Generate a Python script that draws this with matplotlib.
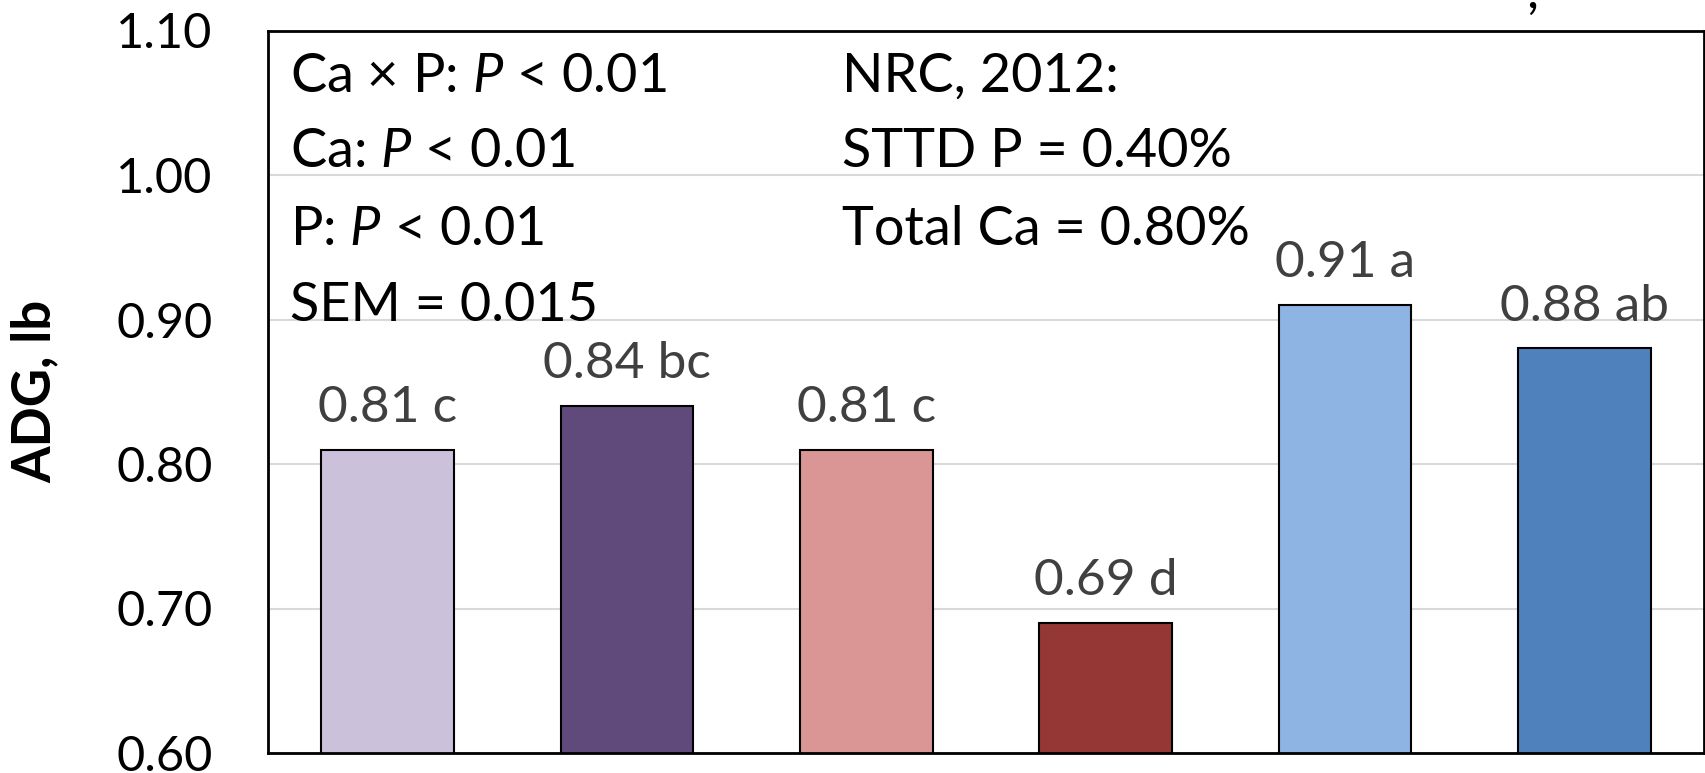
import numpy as np
import matplotlib
matplotlib.use("Agg")
import matplotlib.pyplot as plt

# ADG by dietary Ca / P treatment
treatments = ["T1", "T2", "T3", "T4", "T5", "T6"]
adg = [0.81, 0.84, 0.81, 0.69, 0.91, 0.88]
letters = ["c", "bc", "c", "d", "a", "ab"]
bar_colors = ["#CCC1DA", "#604A7B", "#D99694", "#953735", "#8EB4E3", "#4F81BD"]

yticks = [0.60, 0.70, 0.80, 0.90, 1.00, 1.10]

stats_text = [r"Ca × P: $\mathit{P}$ < 0.01",
              r"Ca: $\mathit{P}$ < 0.01",
              r"P: $\mathit{P}$ < 0.01",
              "SEM = 0.015"]
nrc_text = ["NRC, 2012:",
            "STTD P = 0.40%",
            "Total Ca = 0.80%"]

plt.rcParams["font.family"] = ["Lato", "DejaVu Sans"]
plt.rcParams["mathtext.fontset"] = "custom"
plt.rcParams["mathtext.rm"] = "Lato"
plt.rcParams["mathtext.it"] = "Lato:italic"

fig = plt.figure(figsize=(17.05, 7.73), dpi=100)
ax = fig.add_axes([268 / 1705, 20 / 773, 1436 / 1705, 722.5 / 773])

x = np.arange(len(treatments))
ax.bar(x, adg, width=0.555, color=bar_colors, edgecolor="black",
       linewidth=1.5, zorder=2)

for xi, v, lt in zip(x, adg, letters):
    ax.annotate(f"{v:.2f} {lt}", xy=(xi, v), xytext=(0, 20),
                textcoords="offset points", ha="center", va="baseline",
                fontsize=37, color="#404040")

ax.set_xlim(-0.5, 5.5)
ax.set_ylim(0.60, 1.10)
ax.set_yticks(yticks)
ax.set_yticklabels([f"{t:.2f}" for t in yticks], fontsize=35)
ax.set_xticks([])
ax.tick_params(axis="y", length=0, pad=40)
ax.yaxis.grid(True, color="#D9D9D9", linewidth=1.5, zorder=0)
ax.set_axisbelow(True)
for s in ax.spines.values():
    s.set_linewidth(2)
    s.set_color("black")

ax.set_ylabel("ADG, lb", fontsize=38, fontweight="bold")
ax.yaxis.set_label_coords(-0.145, 0.5)

# statistics and NRC requirement block
line_y = [0.915, 0.811, 0.703, 0.598]
for t, y in zip(stats_text, line_y):
    ax.text(0.0153, y, t, transform=ax.transAxes, fontsize=39,
            va="baseline", ha="left", zorder=5)
for t, y in zip(nrc_text, line_y):
    ax.text(0.40, y, t, transform=ax.transAxes, fontsize=39,
            va="baseline", ha="left", zorder=5)

fig.text(1526 / 1705, 1 - 8 / 773, ",", fontsize=38, va="baseline")

fig.savefig("out.png", dpi=100, facecolor="white")
